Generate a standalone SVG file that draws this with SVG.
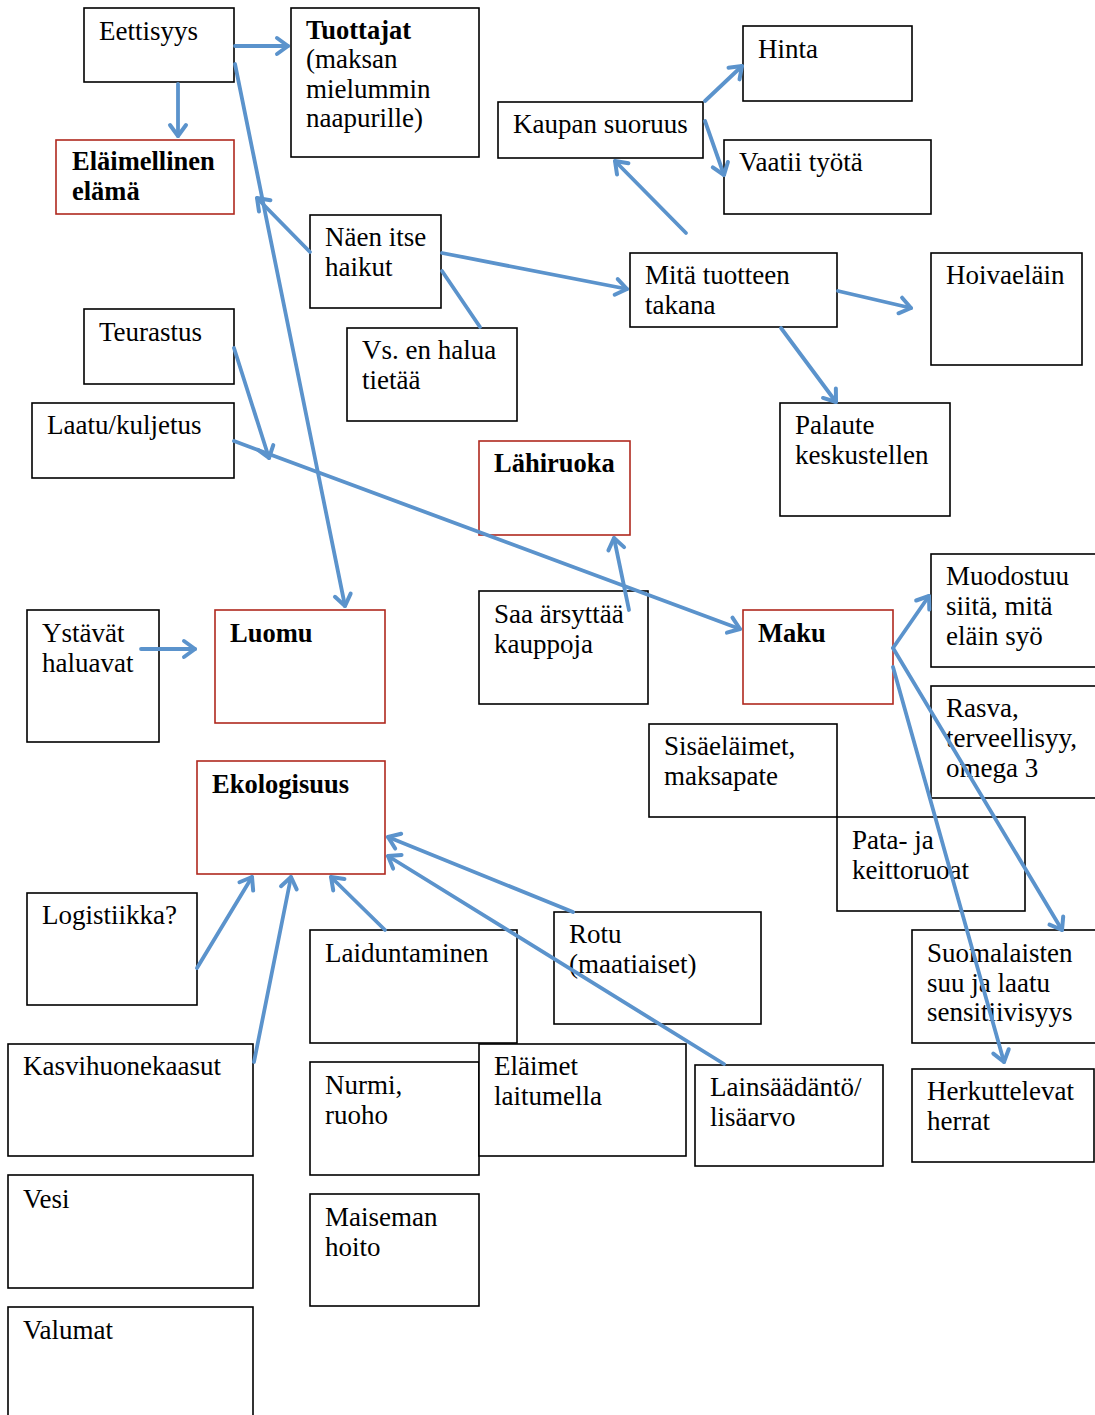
<svg xmlns="http://www.w3.org/2000/svg" width="1095" height="1415" viewBox="0 0 1095 1415">
<style>
.b{fill:#fff;stroke:#000;stroke-width:1.6}
.r{fill:#fff;stroke:#b0281f;stroke-width:1.6}
text{font-family:"Liberation Serif","Times New Roman",serif;font-size:27px;fill:#000}
.t{font-weight:bold;font-size:26.5px}
.c line{stroke:#5b93cc;stroke-width:3.8;stroke-linecap:round;fill:none}
</style>
<defs>
<marker id="a" markerUnits="userSpaceOnUse" markerWidth="30" markerHeight="30" viewBox="-15 -15 30 30" refX="0" refY="0" orient="auto">
<path d="M-11,-8 L0,0 L-11,8" fill="none" stroke="#5b93cc" stroke-width="4" stroke-linecap="round" stroke-linejoin="round"/>
</marker>
</defs>
<rect width="1095" height="1415" fill="#fff"/>
<g id="n-eettisyys"><rect class="b" x="84" y="8" width="150" height="74"/><text x="99" y="40">Eettisyys</text></g>
<g id="n-tuottajat"><rect class="b" x="291" y="8" width="188" height="149"/><text x="306" y="39" class="t">Tuottajat</text><text x="306" y="68">(maksan</text><text x="306" y="98">mielummin</text><text x="306" y="127">naapurille)</text></g>
<g id="n-elaimellinen"><rect class="r" x="56" y="140" width="178" height="74"/><text x="72" y="170" class="t">Eläimellinen</text><text x="72" y="200" class="t">elämä</text></g>
<g id="n-hinta"><rect class="b" x="743" y="26" width="169" height="75"/><text x="758" y="58">Hinta</text></g>
<g id="n-kaupan"><rect class="b" x="498" y="102" width="205" height="56"/><text x="513" y="133">Kaupan suoruus</text></g>
<g id="n-vaatii"><rect class="b" x="724" y="140" width="207" height="74"/><text x="739" y="171">Vaatii työtä</text></g>
<g id="n-naen"><rect class="b" x="310" y="215" width="131" height="93"/><text x="325" y="246">Näen itse</text><text x="325" y="276">haikut</text></g>
<g id="n-mita"><rect class="b" x="630" y="253" width="207" height="74"/><text x="645" y="284">Mitä tuotteen</text><text x="645" y="314">takana</text></g>
<g id="n-hoivaelain"><rect class="b" x="931" y="253" width="151" height="112"/><text x="946" y="284">Hoivaeläin</text></g>
<g id="n-teurastus"><rect class="b" x="84" y="309" width="150" height="75"/><text x="99" y="341">Teurastus</text></g>
<g id="n-vs"><rect class="b" x="347" y="328" width="170" height="93"/><text x="362" y="359">Vs. en halua</text><text x="362" y="389">tietää</text></g>
<g id="n-laatu"><rect class="b" x="32" y="403" width="202" height="75"/><text x="47" y="434">Laatu/kuljetus</text></g>
<g id="n-palaute"><rect class="b" x="780" y="403" width="170" height="113"/><text x="795" y="434">Palaute</text><text x="795" y="464">keskustellen</text></g>
<g id="n-lahiruoka"><rect class="r" x="479" y="441" width="151" height="94"/><text x="494" y="472" class="t">Lähiruoka</text></g>
<g id="n-ystavat"><rect class="b" x="27" y="610" width="132" height="132"/><text x="42" y="642">Ystävät</text><text x="42" y="672">haluavat</text></g>
<g id="n-luomu"><rect class="r" x="215" y="610" width="170" height="113"/><text x="230" y="642" class="t">Luomu</text></g>
<g id="n-saa"><rect class="b" x="479" y="591" width="169" height="113"/><text x="494" y="623">Saa ärsyttää</text><text x="494" y="653">kauppoja</text></g>
<g id="n-maku"><rect class="r" x="743" y="610" width="150" height="94"/><text x="758" y="642" class="t">Maku</text></g>
<g id="n-muodostuu"><rect class="b" x="931" y="554" width="170" height="113"/><text x="946" y="585">Muodostuu</text><text x="946" y="615">siitä, mitä</text><text x="946" y="645">eläin syö</text></g>
<g id="n-rasva"><rect class="b" x="931" y="686" width="170" height="112"/><text x="946" y="717">Rasva,</text><text x="946" y="747">terveellisyy,</text><text x="946" y="777">omega 3</text></g>
<g id="n-sisaelaimet"><rect class="b" x="649" y="724" width="188" height="93"/><text x="664" y="755">Sisäeläimet,</text><text x="664" y="785">maksapate</text></g>
<g id="n-pata"><rect class="b" x="837" y="817" width="188" height="94"/><text x="852" y="849">Pata- ja</text><text x="852" y="879">keittoruoat</text></g>
<g id="n-ekologisuus"><rect class="r" x="197" y="761" width="188" height="113"/><text x="212" y="793" class="t">Ekologisuus</text></g>
<g id="n-logistiikka"><rect class="b" x="27" y="893" width="170" height="112"/><text x="42" y="924">Logistiikka?</text></g>
<g id="n-laiduntaminen"><rect class="b" x="310" y="930" width="207" height="113"/><text x="325" y="962">Laiduntaminen</text></g>
<g id="n-rotu"><rect class="b" x="554" y="912" width="207" height="112"/><text x="569" y="943">Rotu</text><text x="569" y="973">(maatiaiset)</text></g>
<g id="n-suomalaisten"><rect class="b" x="912" y="930" width="190" height="113"/><text x="927" y="962">Suomalaisten</text><text x="927" y="992">suu ja laatu</text><text x="927" y="1021">sensitiivisyys</text></g>
<g id="n-kasvihuone"><rect class="b" x="8" y="1044" width="245" height="112"/><text x="23" y="1075">Kasvihuonekaasut</text></g>
<g id="n-nurmi"><rect class="b" x="310" y="1062" width="169" height="113"/><text x="325" y="1094">Nurmi,</text><text x="325" y="1124">ruoho</text></g>
<g id="n-elaimet"><rect class="b" x="479" y="1044" width="207" height="112"/><text x="494" y="1075">Eläimet</text><text x="494" y="1105">laitumella</text></g>
<g id="n-lainsaadanto"><rect class="b" x="695" y="1065" width="188" height="101"/><text x="710" y="1096">Lainsäädäntö/</text><text x="710" y="1126">lisäarvo</text></g>
<g id="n-herkuttelevat"><rect class="b" x="912" y="1069" width="182" height="93"/><text x="927" y="1100">Herkuttelevat</text><text x="927" y="1130">herrat</text></g>
<g id="n-vesi"><rect class="b" x="8" y="1175" width="245" height="113"/><text x="23" y="1208">Vesi</text></g>
<g id="n-maiseman"><rect class="b" x="310" y="1194" width="169" height="112"/><text x="325" y="1226">Maiseman</text><text x="325" y="1256">hoito</text></g>
<g id="n-valumat"><rect class="b" x="8" y="1307" width="245" height="120"/><text x="23" y="1339">Valumat</text></g>
<g id="connectors" class="c">
<line x1="235" y1="46" x2="288" y2="46" marker-end="url(#a)"/>
<line x1="178" y1="84" x2="178" y2="136" marker-end="url(#a)"/>
<line x1="235" y1="64" x2="345" y2="606" marker-end="url(#a)"/>
<line x1="310" y1="252" x2="257" y2="198" marker-end="url(#a)"/>
<line x1="442" y1="253" x2="627" y2="289" marker-end="url(#a)"/>
<line x1="442" y1="271" x2="480" y2="327"/>
<line x1="705" y1="101" x2="742" y2="66" marker-end="url(#a)"/>
<line x1="705" y1="121" x2="724" y2="175" marker-end="url(#a)"/>
<line x1="686" y1="233" x2="615" y2="161" marker-end="url(#a)"/>
<line x1="838" y1="291" x2="911" y2="308" marker-end="url(#a)"/>
<line x1="781" y1="328" x2="836" y2="402" marker-end="url(#a)"/>
<line x1="234" y1="348" x2="269" y2="458" marker-end="url(#a)"/>
<line x1="234" y1="441" x2="740" y2="629" marker-end="url(#a)"/>
<line x1="629" y1="610" x2="614" y2="538" marker-end="url(#a)"/>
<line x1="141" y1="649" x2="195" y2="649" marker-end="url(#a)"/>
<line x1="893" y1="648" x2="929" y2="596" marker-end="url(#a)"/>
<line x1="893" y1="648" x2="1062" y2="930" marker-end="url(#a)"/>
<line x1="893" y1="667" x2="1004" y2="1062" marker-end="url(#a)"/>
<line x1="197" y1="968" x2="252" y2="877" marker-end="url(#a)"/>
<line x1="254" y1="1062" x2="291" y2="877" marker-end="url(#a)"/>
<line x1="385" y1="930" x2="331" y2="877" marker-end="url(#a)"/>
<line x1="573" y1="912" x2="388" y2="837" marker-end="url(#a)"/>
<line x1="724" y1="1064" x2="388" y2="856" marker-end="url(#a)"/>
</g>
</svg>
